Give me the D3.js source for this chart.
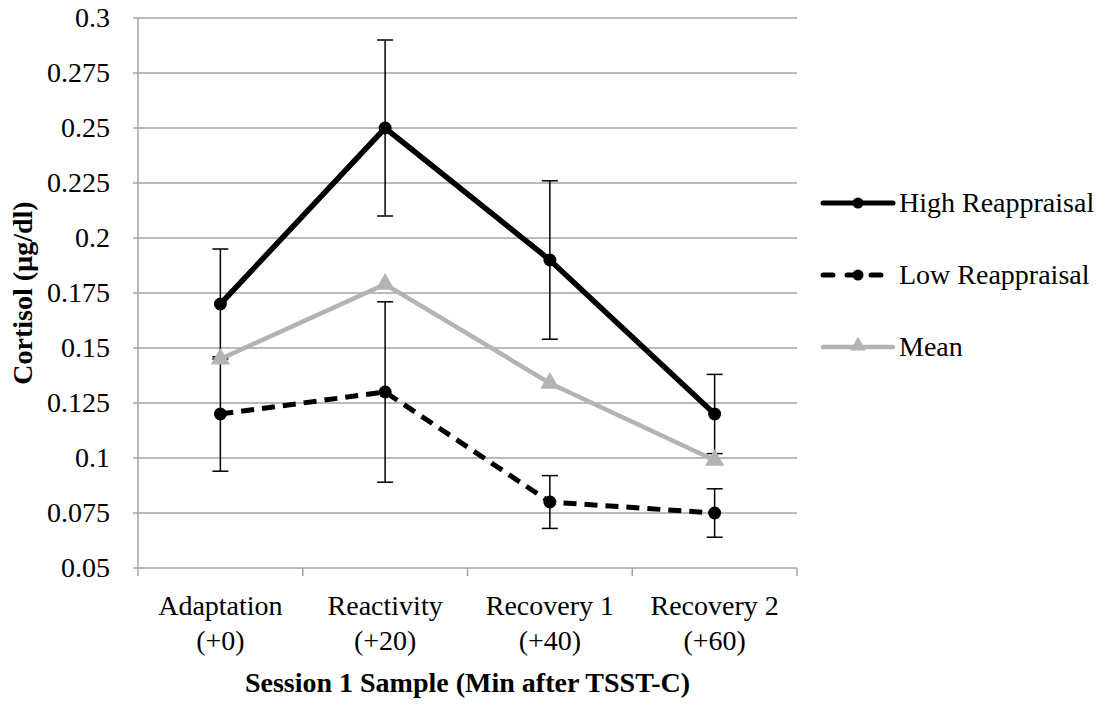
<!DOCTYPE html>
<html>
<head>
<meta charset="utf-8">
<script src="https://cdn.jsdelivr.net/npm/d3@7"></script>
</head>
<body style="margin:0">
<svg id="fig" width="1112" height="723"></svg>
<script>
// Data

var categories = ["Adaptation|(+0)", "Reactivity|(+20)", "Recovery 1|(+40)", "Recovery 2|(+60)"];

var highValues = [0.17, 0.25, 0.19, 0.12];
var highErrors = [0.025, 0.04, 0.036, 0.018];

var lowValues = [0.12, 0.13, 0.08, 0.075];
var lowErrors = [0.026, 0.041, 0.012, 0.011];

var meanValues = [0.145, 0.179, 0.134, 0.099];

var yTicks = [0.05, 0.075, 0.1, 0.125, 0.15, 0.175, 0.2, 0.225, 0.25, 0.275, 0.3];

var FS = "28px";

var svg = d3.select("#fig");

// every text gets the font set directly
function styled(sel) {
    return sel.style("font-family", "\"Liberation Serif\"")
        .style("font-size", FS);
}

var plot = { left: 138, right: 797, top: 18, bottom: 568 };

var x = d3.scaleBand()
    .domain(categories)
    .range([plot.left, plot.right]);

var y = d3.scaleLinear()
    .domain([0.05, 0.3])
    .range([plot.bottom, plot.top]);

var gridColor = "#a3a3a3";

// Gridlines
svg.append("g")
    .selectAll("line")
    .data(yTicks)
    .enter().append("line")
    .attr("x1", plot.left - 5)
    .attr("x2", plot.right)
    .attr("y1", function(d) { return y(d); })
    .attr("y2", function(d) { return y(d); })
    .attr("stroke", gridColor)
    .attr("stroke-width", 1.5);

// Y axis line
svg.append("line")
    .attr("x1", plot.left).attr("x2", plot.left)
    .attr("y1", plot.top).attr("y2", plot.bottom)
    .attr("stroke", gridColor)
    .attr("stroke-width", 1.5);

// Y tick labels
yTicks.forEach(function(t) {
    styled(svg.append("text"))
        .attr("x", plot.left - 28)
        .attr("y", y(t))
        .attr("dy", "0.33em")
        .attr("text-anchor", "end")
        .text(String(+t.toFixed(3)));
});

// X axis ticks at category boundaries
var boundaries = categories.map(function(c) { return x(c); }).concat([plot.right]);
svg.append("g")
    .selectAll("line")
    .data(boundaries)
    .enter().append("line")
    .attr("x1", function(d) { return d; })
    .attr("x2", function(d) { return d; })
    .attr("y1", plot.bottom)
    .attr("y2", plot.bottom + 8)
    .attr("stroke", gridColor)
    .attr("stroke-width", 1.5);

// Category labels, one text per line
categories.forEach(function(c) {
    var parts = c.split("|");
    var px = x(c) + x.bandwidth() / 2;
    styled(svg.append("text"))
        .attr("x", px).attr("y", 615)
        .attr("text-anchor", "middle")
        .text(parts[0]);
    styled(svg.append("text"))
        .attr("x", px).attr("y", 650)
        .attr("text-anchor", "middle")
        .text(parts[1]);
});

// Axis titles
styled(svg.append("text"))
    .attr("transform", "translate(22," + ((plot.top + plot.bottom) / 2) + ") rotate(-90)")
    .attr("text-anchor", "middle")
    .attr("dy", "0.35em")
    .style("font-weight", "bold")
    .text("Cortisol (µg/dl)");

styled(svg.append("text"))
    .attr("x", (plot.left + plot.right) / 2)
    .attr("y", 692)
    .attr("text-anchor", "middle")
    .style("font-weight", "bold")
    .text("Session 1 Sample (Min after TSST-C)");

function cx(i) { return x(categories[i]) + x.bandwidth() / 2; }

var line = d3.line()
    .x(function(d, i) { return cx(i); })
    .y(function(d) { return y(d); });

// Error bars
function drawErrors(values, errors) {
    var g = svg.append("g");
    values.forEach(function(v, i) {
        var top = y(v + errors[i]), bot = y(v - errors[i]), px = cx(i);
        g.append("line").attr("x1", px).attr("x2", px).attr("y1", top).attr("y2", bot)
            .attr("stroke", "#000").attr("stroke-width", 1.5);
        [top, bot].forEach(function(yy) {
            g.append("line").attr("x1", px - 8).attr("x2", px + 8).attr("y1", yy).attr("y2", yy)
                .attr("stroke", "#000").attr("stroke-width", 1.5);
        });
    });
}

drawErrors(highValues, highErrors);
drawErrors(lowValues, lowErrors);

// Low reappraisal (dashed)
svg.append("path")
    .datum(lowValues)
    .attr("d", line)
    .attr("fill", "none")
    .attr("stroke", "#000")
    .attr("stroke-width", 5)
    .attr("stroke-dasharray", "13,8");

svg.append("g").selectAll("circle")
    .data(lowValues)
    .enter().append("circle")
    .attr("cx", function(d, i) { return cx(i); })
    .attr("cy", function(d) { return y(d); })
    .attr("r", 6.5)
    .attr("fill", "#000");

// Mean (gray)
var meanColor = "#b3b3b3";
svg.append("path")
    .datum(meanValues)
    .attr("d", line)
    .attr("fill", "none")
    .attr("stroke", meanColor)
    .attr("stroke-width", 4.5);

var tri = d3.symbol().type(d3.symbolTriangle).size(160);
svg.append("g").selectAll("path")
    .data(meanValues)
    .enter().append("path")
    .attr("d", tri)
    .attr("transform", function(d, i) { return "translate(" + cx(i) + "," + y(d) + ")"; })
    .attr("fill", meanColor);

// High reappraisal (solid)
svg.append("path")
    .datum(highValues)
    .attr("d", line)
    .attr("fill", "none")
    .attr("stroke", "#000")
    .attr("stroke-width", 5.5);

svg.append("g").selectAll("circle")
    .data(highValues)
    .enter().append("circle")
    .attr("cx", function(d, i) { return cx(i); })
    .attr("cy", function(d) { return y(d); })
    .attr("r", 6.5)
    .attr("fill", "#000");

// Legend
var legendItems = [
    { name: "High Reappraisal", color: "#000", dash: null, marker: "circle", width: 5 },
    { name: "Low Reappraisal", color: "#000", dash: "10,14", marker: "circle", width: 5 },
    { name: "Mean", color: meanColor, dash: null, marker: "triangle", width: 4.5 }
];

legendItems.forEach(function(item, i) {
    var ly = 203 + i * 72;
    svg.append("line")
        .attr("x1", 823).attr("x2", 893).attr("y1", ly).attr("y2", ly)
        .attr("stroke", item.color)
        .attr("stroke-width", item.width)
        .attr("stroke-linecap", "round")
        .attr("stroke-dasharray", item.dash);
    if (item.marker === "circle") {
        svg.append("circle").attr("cx", 858).attr("cy", ly).attr("r", 5.5).attr("fill", item.color);
    } else {
        svg.append("path").attr("d", d3.symbol().type(d3.symbolTriangle).size(110))
            .attr("transform", "translate(858," + (ly - 1) + ")").attr("fill", item.color);
    }
    styled(svg.append("text"))
        .attr("x", 899)
        .attr("y", ly)
        .attr("dy", "0.33em")
        .text(item.name);
});
</script>
</body>
</html>
